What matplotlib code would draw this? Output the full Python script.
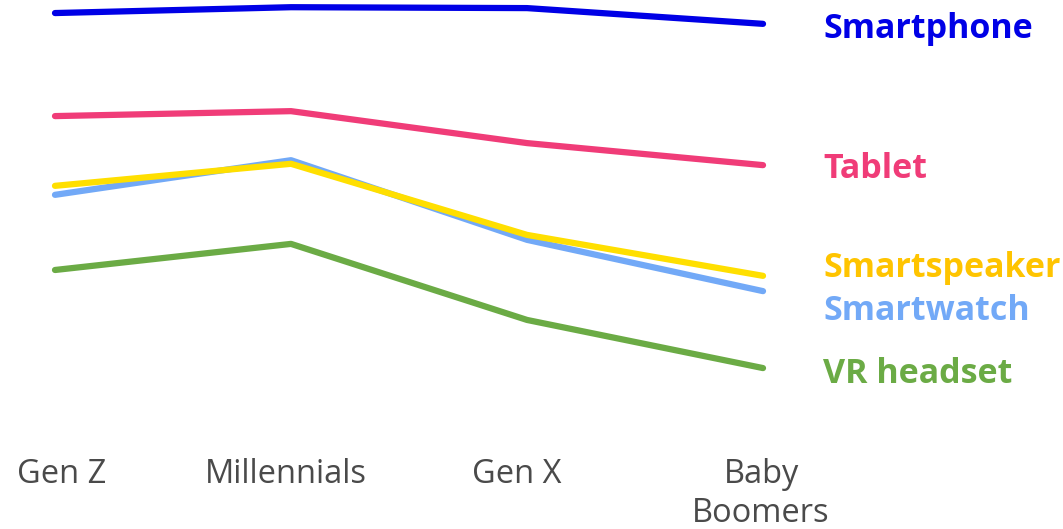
import numpy as np
import matplotlib
matplotlib.use("Agg")
import matplotlib.pyplot as plt

generations = ["Gen Z", "Millennials", "Gen X", "Baby\nBoomers"]

smartphone = [97.1, 98.4, 98.2, 94.7]
tablet = [74.2, 75.3, 68.2, 63.3]
smartwatch = [56.7, 64.4, 46.7, 35.3]
smartspeaker = [58.7, 63.6, 47.8, 38.7]
vr_headset = [40.0, 45.8, 28.9, 18.2]

# name, values, line colour, label colour, label baseline
series = [
    ("Smartphone", smartphone, "#0000e6", "#0000e6", 91.6),
    ("Tablet", tablet, "#f03c78", "#f03c78", 60.4),
    ("Smartwatch", smartwatch, "#72a9f7", "#72a9f7", 28.9),
    ("Smartspeaker", smartspeaker, "#ffdf00", "#ffc400", 38.4),
    ("VR headset", vr_headset, "#6bab45", "#6bab45", 14.9),
]

fig = plt.figure(figsize=(10.63, 5.29), dpi=100)
ax = fig.add_axes([0, 0, 1, 1])
x = np.arange(len(generations))

for name, vals, c, tc, ty in series:
    ax.plot(x, vals, color=c, lw=4.5, solid_capstyle="round", solid_joinstyle="round")
    ax.text(3.255, ty, name, color=tc, fontsize=24.5, fontweight="bold",
            family=["Open Sans", "DejaVu Sans"], va="baseline", ha="left")

label_x = [0.028, -0.023, -0.044, -0.008]
for xi, lab, dx in zip(x, generations, label_x):
    ax.text(xi + dx, -1.8, lab, color="#4a4a4a", fontsize=23.5,
            family=["Open Sans", "DejaVu Sans"], ha="center", va="top", linespacing=1.22)

ax.set_xlim(-0.233, 4.271)
ax.set_ylim(-17.56, 100)
ax.axis("off")

fig.savefig("out.png", dpi=100)
